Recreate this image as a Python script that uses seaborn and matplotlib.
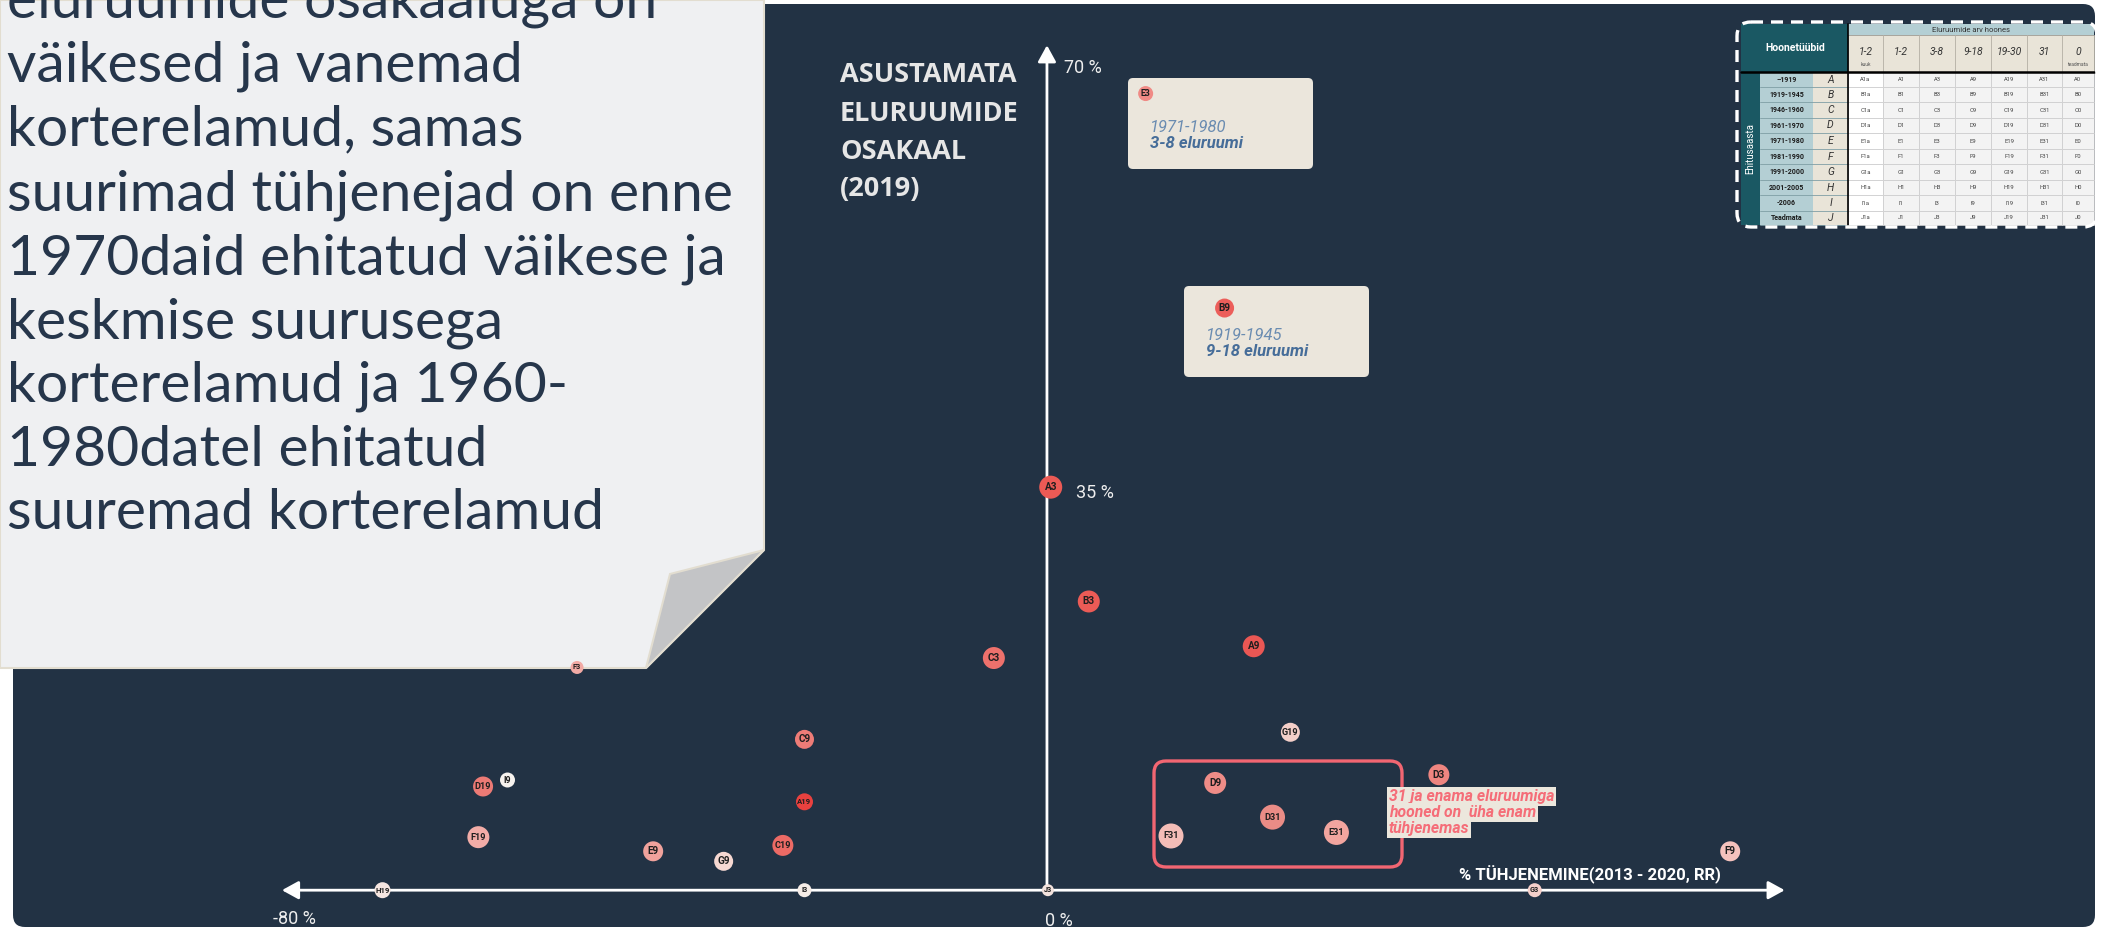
import matplotlib
matplotlib.use("Agg")
import matplotlib.pyplot as plt
import seaborn as sns
import pandas as pd
from matplotlib.patches import FancyBboxPatch, Polygon, Rectangle

sns.set_theme(style="white")
plt.rcParams['font.family'] = ['Roboto', 'DejaVu Sans']

# ---------------- data ----------------
labels = ["E3", "B9", "A3", "B3", "C3", "A9", "G19", "D3", "D9", "D31", "E31", "F31", "F9",
          "F3", "C9", "D19", "I9", "A19", "F19", "E9", "C19", "G9", "H19", "I3", "J3", "G3"]
tuhjenemine = [10.5, 18.9, 0.4, 4.45, -5.65, 22.0, 25.9, 41.7, 17.9, 24.0, 30.8, 13.2, 72.7,
               -50.0, -25.8, -60.0, -57.4, -25.8, -60.5, -41.9, -28.1, -34.4, -70.7, -25.8, 0.1, 51.9]
asustamata = [67.6, 49.4, 34.2, 24.5, 19.7, 20.7, 13.4, 9.8, 9.1, 6.2, 4.9, 4.6, 3.3,
              18.9, 12.8, 8.8, 9.35, 7.5, 4.5, 3.3, 3.8, 2.45, 0.0, 0.0, 0.0, 0.0]
marker_px = [15, 19, 23, 22, 22, 22, 19, 21, 22, 25, 25, 25, 20,
             13, 19, 20, 15, 17, 22, 20, 21, 19, 16, 14, 12, 14]
point_colors = ["#f08a85", "#ec5e5a", "#ec5a55", "#eb5b56", "#ee716c", "#ea5754", "#f4cfc9",
                "#ee8580", "#ef8c87", "#ea8c86", "#f2a59f", "#f4bdb7", "#f5c2bd",
                "#f2aaa5", "#ee7c77", "#ec7a75", "#f7f3ef", "#e9413f", "#f2aca7", "#f0a29c",
                "#ec6a65", "#f6d8d2", "#f6e6e1", "#f6ede8", "#f3e2dd", "#f5d0cb"]

y_ticks = [70, 35]
x_ticks = [-80, 0]

story_lines = ["eluruumide osakaaluga on", "väikesed ja vanemad", "korterelamud, samas",
               "suurimad tühjenejad on enne", "1970daid ehitatud väikese ja",
               "keskmise suurusega", "korterelamud ja 1960-", "1980datel ehitatud",
               "suuremad korterelamud"]
y_title = ["ASUSTAMATA", "ELURUUMIDE", "OSAKAAL", "(2019)"]
x_title = "% TÜHJENEMINE(2013 - 2020, RR)"
note_lines = ["31 ja enama eluruumiga", "hooned on  üha enam", "tühjenemas"]
box1 = ("1971-1980", "3-8 eluruumi")
box2 = ("1919-1945", "9-18 eluruumi")

table_years = ["–1919", "1919-1945", "1946-1960", "1961-1970", "1971-1980",
               "1981-1990", "1991-2000", "2001-2005", "-2006", "Teadmata"]
table_letters = ["A", "B", "C", "D", "E", "F", "G", "H", "I", "J"]
table_cols = ["1-2", "1-2", "3-8", "9-18", "19-30", "31", "0"]
table_col_sub = ["kuuk", "", "", "", "", "", "teadmata"]
table_codes = ["1a", "1", "3", "9", "19", "31", "0"]

# ---------------- figure ----------------
W, H = 2102, 930
fig = plt.figure(figsize=(W / 100, H / 100), dpi=100)
fig.patch.set_facecolor("white")

bg = fig.add_axes([0, 0, 1, 1])
bg.set_xlim(0, W)
bg.set_ylim(H, 0)
bg.axis("off")

NAVY = "#223244"
bg.add_patch(FancyBboxPatch((13, 4), 2082, 923, boxstyle="round,pad=0,rounding_size=12",
                            fc=NAVY, ec="none", zorder=1))

# folded paper callout
bg.add_patch(Polygon([(0, 0), (764, 0), (764, 550), (646, 668), (0, 668)], closed=True,
                     fc="#eff0f2", ec="#e2ddd0", lw=1.5, zorder=2))
bg.add_patch(Polygon([(764, 550), (670, 574), (646, 668)], closed=True,
                     fc="#c3c4c6", ec="#e2ddd0", lw=1.5, zorder=2))
story_base = [18, 82, 145, 210, 274, 338, 401, 466, 529]
for txt, yb in zip(story_lines, story_base):
    bg.text(7, yb, txt, fontsize=41, weight="normal", color="#26364b", ha="left",
            va="baseline", family=["Lato", "DejaVu Sans"], zorder=3)

# y-axis title
for txt, yb in zip(y_title, [82, 121, 159, 196]):
    bg.text(840, yb, txt, fontsize=19.5, weight="bold", color="#e6e6e6", ha="left",
            va="baseline", family=["Open Sans", "DejaVu Sans"], zorder=3)

# tick labels
tick_style = dict(fontsize=13, color="#eeeeee", weight="normal", zorder=3)
bg.text(1064, 73, f"{y_ticks[0]} %", ha="left", va="baseline", **tick_style)
bg.text(1076, 498, f"{y_ticks[1]} %", ha="left", va="baseline", **tick_style)
bg.text(294, 924, f"{x_ticks[0]} %", ha="center", va="baseline", **tick_style)
bg.text(1059, 926, f"{x_ticks[1]} %", ha="center", va="baseline", **tick_style)

# x-axis title
bg.text(1590, 880, x_title, fontsize=12, weight="bold", color="white", ha="center",
        va="baseline", family=["Liberation Sans Narrow", "Roboto"], zorder=3)

# annotation boxes
for (x0, y0, x1, y1), (t1, t2), (tx, tb) in [((1128, 78, 1313, 169), box1, (1150, 132)),
                                             ((1184, 286, 1369, 377), box2, (1206, 340))]:
    bg.add_patch(FancyBboxPatch((x0, y0), x1 - x0, y1 - y0,
                                boxstyle="round,pad=0,rounding_size=5",
                                fc="#ebe6dc", ec="none", zorder=3))
    bg.text(tx, tb, t1, fontsize=12, style="italic", weight="normal", color="#6a8cb1",
            ha="left", va="baseline", zorder=4)
    bg.text(tx, tb + 16, t2, fontsize=12, style="italic", weight="bold", color="#466d99",
            ha="left", va="baseline", zorder=4)

# highlight rectangle and note
bg.add_patch(FancyBboxPatch((1154, 761), 248, 106, boxstyle="round,pad=0,rounding_size=12",
                            fill=False, ec="#f26672", lw=2.4, zorder=3))
for txt, yb in zip(note_lines, [801, 817, 833]):
    bg.text(1389, yb, txt, fontsize=11.3, style="italic", weight="bold", color="#f56d78",
            ha="left", va="baseline", zorder=4,
            bbox=dict(boxstyle="square,pad=0.1", fc="#ece7dd", ec="none"))

# ---------------- table (top right) ----------------
TEAL, LBLUE, BEIGE = "#1a5863", "#b4cfd4", "#e9e4d8"
col_edges = [1848, 1883, 1919, 1955, 1991, 2027, 2062, 2094]
row_edges = [72, 87.3, 102.3, 117.7, 133.3, 149, 164.3, 180, 195.3, 210.7, 225]
bg.add_patch(Rectangle((1741, 24), 107, 48, fc=TEAL, ec="none", zorder=3))
bg.text(1795, 48, "Hoonetüübid", fontsize=7.5, weight="bold", color="white",
        ha="center", va="center", zorder=4)
bg.add_patch(Rectangle((1848, 24), 246, 11, fc=LBLUE, ec="none", zorder=3))
bg.text(1971, 29.5, "Eluruumide arv hoones", fontsize=5.5, color="#333333",
        ha="center", va="center", zorder=4)
bg.add_patch(Rectangle((1741, 72), 19, 153, fc=TEAL, ec="none", zorder=3))
bg.text(1750.5, 148, "Ehitusaasta", fontsize=7, color="white", rotation=90,
        ha="center", va="center", zorder=4)
bg.add_patch(Rectangle((1760, 72), 53, 153, fc=LBLUE, ec="none", zorder=3))
bg.add_patch(Rectangle((1813, 72), 35, 153, fc=BEIGE, ec="none", zorder=3))
for j, (lab, sub) in enumerate(zip(table_cols, table_col_sub)):
    cx0, cx1 = col_edges[j], col_edges[j + 1]
    bg.add_patch(Rectangle((cx0, 35), cx1 - cx0, 37, fc=BEIGE, ec="#b8b2a6", lw=0.5, zorder=3))
    bg.text((cx0 + cx1) / 2, 52, lab, fontsize=7.5, style="italic", color="#333333",
            ha="center", va="center", zorder=4)
    if sub:
        bg.text((cx0 + cx1) / 2, 64, sub, fontsize=3.5, color="#555555",
                ha="center", va="center", zorder=4)
for i, (yr, le) in enumerate(zip(table_years, table_letters)):
    ry0, ry1 = row_edges[i], row_edges[i + 1]
    cy = (ry0 + ry1) / 2
    bg.plot([1760, 1848], [ry1, ry1], color="#7f9ea5", lw=0.6, zorder=3.5)
    bg.text(1786.5, cy, yr, fontsize=5, weight="bold", color="#1b1b1b",
            ha="center", va="center", zorder=4)
    bg.text(1830.5, cy, le, fontsize=7.5, style="italic", color="#333333",
            ha="center", va="center", zorder=4)
    for j, code in enumerate(table_codes):
        cx0, cx1 = col_edges[j], col_edges[j + 1]
        bg.add_patch(Rectangle((cx0, ry0), cx1 - cx0, ry1 - ry0,
                               fc="white" if j == 0 else "#f3f3f3",
                               ec="#cfcfcf", lw=0.5, zorder=3))
        bg.text((cx0 + cx1) / 2, cy, le + code, fontsize=4.2, color="#444444",
                ha="center", va="center", zorder=4)
bg.plot([1741, 2094], [72, 72], color="black", lw=1.8, zorder=4)
bg.plot([1848, 1848], [24, 225], color="black", lw=1.2, zorder=4)
bg.add_patch(FancyBboxPatch((1737, 22), 360, 205, boxstyle="round,pad=0,rounding_size=14",
                            fill=False, ec="white", lw=2.4, ls=(0, (3.6, 2.4)), zorder=5))

# ---------------- scatter axes ----------------
ax = fig.add_axes([0, 0, 1, 1])
ax.patch.set_alpha(0)

ax.annotate("", xy=(78.5, 0), xytext=(-81.4, 0),
            arrowprops=dict(arrowstyle="<|-|>,head_length=1.0,head_width=0.55", color="white",
                            lw=2.0, shrinkA=0, shrinkB=0, mutation_scale=10), zorder=2)
ax.annotate("", xy=(0, 71.7), xytext=(0, 0),
            arrowprops=dict(arrowstyle="-|>,head_length=1.0,head_width=0.55", color="white",
                            lw=2.0, shrinkA=0, shrinkB=0, mutation_scale=10), zorder=2)

df = pd.DataFrame({"label": labels, "x": tuhjenemine, "y": asustamata})
palette = dict(zip(labels, point_colors))
size_map = {lab: (d * 0.72) ** 2 for lab, d in zip(labels, marker_px)}
sns.scatterplot(data=df, x="x", y="y", hue="label", palette=palette, size="label",
                sizes=size_map, edgecolor="none", legend=False, ax=ax, zorder=5)
ax.set_xlim(-111.4, 112.26)
ax.set_ylim(-3.378, 75.54)
ax.axis("off")
for lab, xv, yv, d in zip(labels, tuhjenemine, asustamata, marker_px):
    if d >= 19:
        fs = 7.2 if len(lab) == 2 else 6.6
    elif d >= 15:
        fs = 6.3 if len(lab) == 2 else 5.6
    else:
        fs = 5.2 if len(lab) == 2 else 4.6
    ax.text(xv, yv, lab, fontsize=fs, weight="bold", color="#1e1e1e",
            ha="center", va="center", zorder=6)

fig.savefig("out.png", dpi=100, facecolor="white")
